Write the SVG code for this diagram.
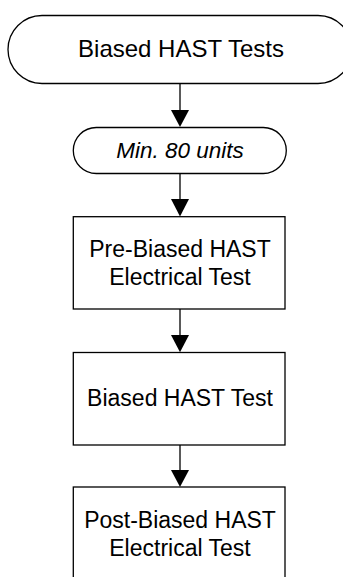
<svg xmlns="http://www.w3.org/2000/svg" width="343" height="577" viewBox="0 0 343 577">
<style>
.shape{fill:#fff;stroke:#000;stroke-width:1.3}
.t{font-family:"Liberation Sans",Arial,sans-serif;font-size:23px;fill:#000;text-anchor:middle}
.conn line{stroke:#000;stroke-width:1.3}
.conn polygon{fill:#000}
</style>
<rect width="343" height="577" fill="#fff"/>
<g id="n1">
<rect class="shape" x="8" y="15.5" width="344" height="68" rx="34" ry="34"/>
<text class="t" x="181" y="57" style="font-size:24px">Biased HAST Tests</text>
</g>
<g id="n2">
<rect class="shape" x="73.3" y="127.5" width="213" height="46" rx="23" ry="23"/>
<text class="t" x="180" y="158" style="font-size:22.5px;font-style:italic">Min. 80 units</text>
</g>
<g id="n3">
<rect class="shape" x="73.3" y="216.7" width="211.7" height="92.3"/>
<text class="t" x="180" y="256.5">Pre-Biased HAST</text>
<text class="t" x="180" y="285">Electrical Test</text>
</g>
<g id="n4">
<rect class="shape" x="73.3" y="352.5" width="211.7" height="92.5"/>
<text class="t" x="180" y="406">Biased HAST Test</text>
</g>
<g id="n5">
<rect class="shape" x="73.3" y="487" width="211.7" height="100"/>
<text class="t" x="180" y="528">Post-Biased HAST</text>
<text class="t" x="180" y="556">Electrical Test</text>
</g>
<g id="connectors" class="conn">
<line x1="180" y1="83.5" x2="180" y2="111"/>
<polygon points="171,110 189,110 180,127"/>
<line x1="180" y1="173.5" x2="180" y2="200"/>
<polygon points="171,199 189,199 180,216.5"/>
<line x1="180" y1="309" x2="180" y2="336"/>
<polygon points="171,335 189,335 180,352.3"/>
<line x1="180" y1="445" x2="180" y2="471"/>
<polygon points="171,470 189,470 180,487"/>
</g>
</svg>
